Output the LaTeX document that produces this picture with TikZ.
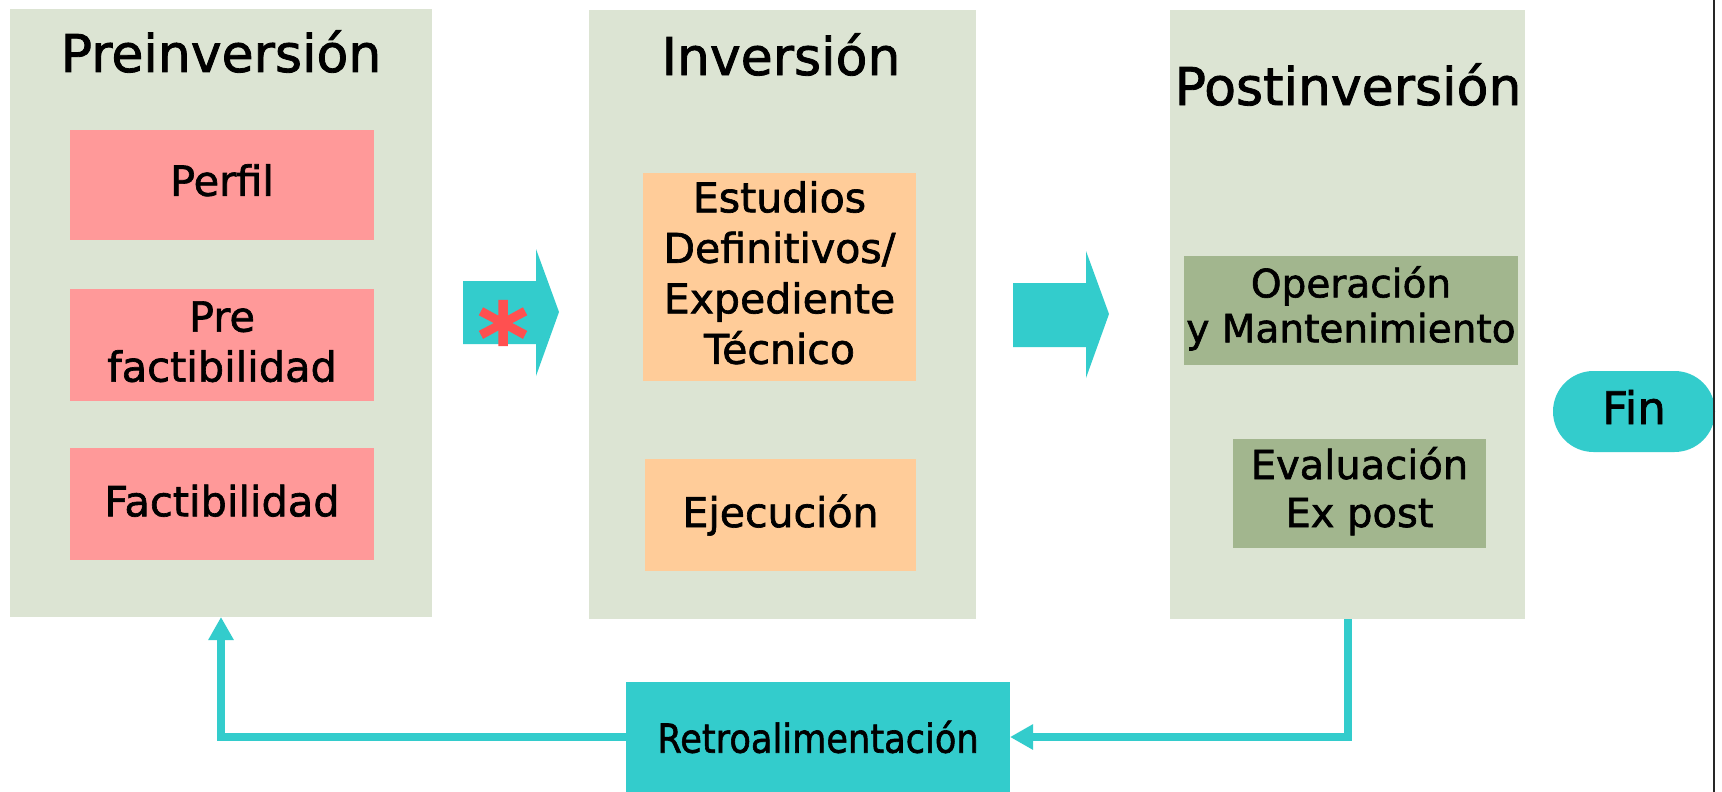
\documentclass[tikz,border=0pt]{standalone}
\usepackage{fontspec}
\setmainfont{DejaVu Sans}[FakeBold=1.6]
\usetikzlibrary{arrows.meta}
\definecolor{panelbg}{HTML}{DCE4D3}
\definecolor{pinkbox}{HTML}{FF9999}
\definecolor{orangebox}{HTML}{FFCC99}
\definecolor{greenbox}{HTML}{A2B68E}
\definecolor{teal}{HTML}{33CCCC}
\definecolor{astred}{HTML}{FF5050}
\begin{document}
\begin{tikzpicture}[x=1pt,y=-1pt,
  base/.style={inner sep=0pt, outer sep=0pt, align=center, text=black},
  panel/.style={base, fill=panelbg},
  pinkst/.style={base, fill=pinkbox, font=\fontsize{41.5}{50}\selectfont},
  orangest/.style={base, fill=orangebox, font=\fontsize{41}{50.5}\selectfont},
  greenst/.style={base, fill=greenbox, font=\fontsize{39}{45}\selectfont},
  title/.style={inner sep=0pt, anchor=base, font=\fontsize{52}{60}\selectfont},
  blockarrow/.style={fill=teal},
  fb/.style={draw=teal, line width=8pt, -{Triangle[length=23pt,width=24pt]}}
]
\useasboundingbox (0,0) rectangle (1722,792);
\fill[white] (0,0) rectangle (1722,792);

% panels
\node[panel, minimum width=422pt, minimum height=608pt] (p1) at (221,313) {};
\node[panel, minimum width=387pt, minimum height=609pt] (p2) at (782.5,314.5) {};
\node[panel, minimum width=355pt, minimum height=609pt] (p3) at (1347.5,314.5) {};

% titles
\node[title] (t1) at (221,72) {Preinversión};
\node[title] (t2) at (781,75) {Inversión};
\node[title] (t3) at (1348,105) {Postinversión};

% preinversion boxes
\node[pinkst, text depth=10pt, minimum width=304pt, minimum height=110pt] (perfil) at (222,185) {Perfil};
\node[pinkst, text depth=7pt, minimum width=304pt, minimum height=112pt] (prefac) at (222,345) {Pre\\factibilidad};
\node[pinkst, text depth=7pt, minimum width=304pt, minimum height=112pt] (fac) at (222,504) {Factibilidad};

% inversion boxes
\node[orangest, text depth=9pt, minimum width=273pt, minimum height=208pt] (estudios) at (779.5,277) {Estudios\\Definitivos/\\Expediente\\Técnico};
\node[orangest, minimum width=271pt, minimum height=112pt] (ejec) at (780.5,515) {Ejecución};

% postinversion boxes
\node[greenst, text depth=12.5pt, minimum width=334pt, minimum height=109pt] (oper) at (1351,310.5) {Operación\\y Mantenimiento};
\node[greenst, font=\fontsize{40}{48}\selectfont, text depth=13pt, minimum width=253pt, minimum height=109pt] (eval) at (1359.5,493.5) {Evaluación\\Ex post};

% fin
\node[base, fill=teal, rounded corners=40.5pt, minimum width=162pt, minimum height=81pt, text depth=9pt, font=\fontsize{45}{48}\selectfont] (fin) at (1634,411.5) {Fin};

% retroalimentacion
\node[base, fill=teal, minimum width=384pt, minimum height=110pt, font=\fontsize{40}{45}\selectfont] (retro) at (818,737) {\scalebox{0.88}[1]{Retroalimentación}};

% block arrows
\fill[blockarrow] (463,281) -- (536,281) -- (536,249) -- (559,312) -- (536,376) -- (536,344) -- (463,344) -- cycle;
\fill[blockarrow] (1013,283) -- (1086,283) -- (1086,251) -- (1109,314) -- (1086,378) -- (1086,347) -- (1013,347) -- cycle;
\node[inner sep=0pt, anchor=base, text=astred, font=\fontsize{96}{100}\selectfont\bfseries] (ast) at (503,372) {*};

% feedback connectors
\draw[fb] (p3.south) |- (retro.east);
\draw[fb] (retro.west) -| (p1.south);

% right edge line
\draw[line width=1.5pt, black!85] (1714,0) -- (1714,792);
\end{tikzpicture}
\end{document}
